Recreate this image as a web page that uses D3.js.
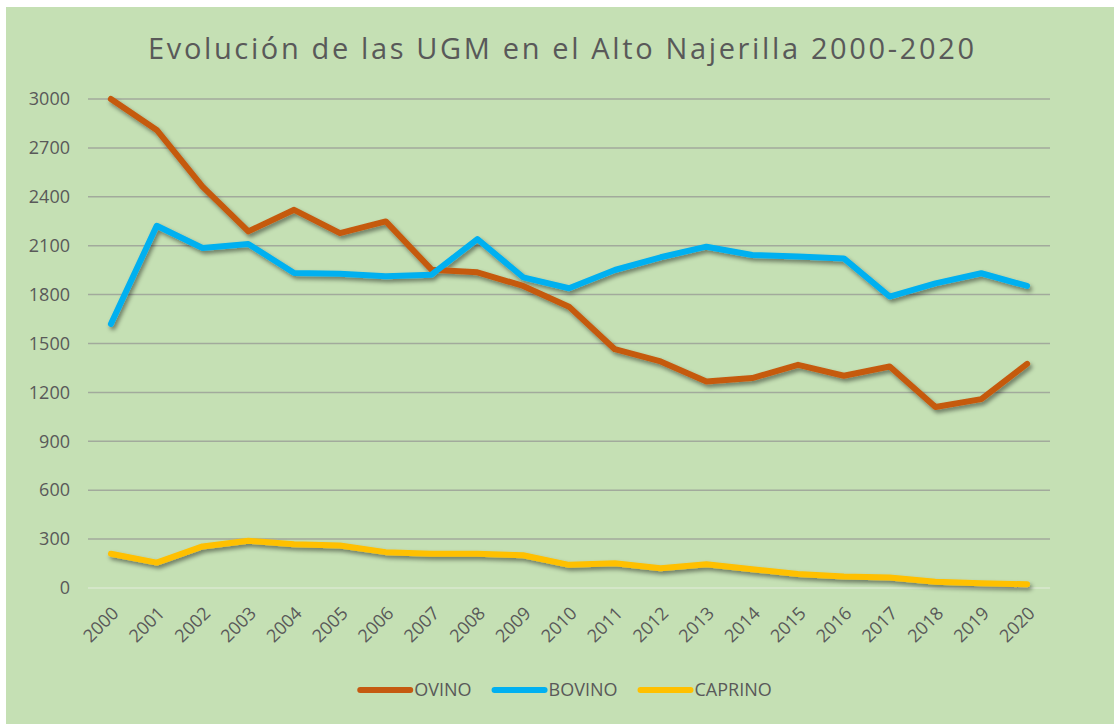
<!DOCTYPE html>
<html>
<head>
<meta charset="utf-8">
<script src="https://cdn.jsdelivr.net/npm/d3@7"></script>
<style>
  html, body { margin: 0; padding: 0; background: #ffffff; }
  svg { display: block; }
  text { font-family: "Open Sans", "DejaVu Sans", sans-serif; fill: #595959; }
</style>
</head>
<body>
<svg id="chart" width="1114" height="724"></svg>
<script>
// Years on the category axis
const years = ["2000","2001","2002","2003","2004","2005","2006","2007","2008","2009","2010",
               "2011","2012","2013","2014","2015","2016","2017","2018","2019","2020"];

// UGM per species
const ovino   = [3000, 2810, 2463, 2188, 2320, 2177, 2249, 1953, 1937, 1853, 1726,
                 1465, 1390, 1267, 1288, 1369, 1302, 1359, 1110, 1159, 1375];
const bovino  = [1620, 2222, 2086, 2110, 1933, 1928, 1912, 1922, 2141, 1906, 1839,
                 1951, 2029, 2094, 2043, 2033, 2022, 1788, 1869, 1931, 1853];
const caprino = [210, 156, 255, 290, 269, 261, 220, 210, 210, 201, 142,
                 152, 121, 146, 115, 86, 70, 64, 39, 29, 23];

// Value axis ticks
const yTicks = [0, 300, 600, 900, 1200, 1500, 1800, 2100, 2400, 2700, 3000];

const seriesNames  = ["OVINO", "BOVINO", "CAPRINO"];
const seriesColors = ["#C55A11", "#00B0F0", "#FFC000"];
const seriesData   = [ovino, bovino, caprino];

const svg = d3.select("#chart");

// Chart area background
svg.append("rect")
  .attr("x", 6).attr("y", 7)
  .attr("width", 1108).attr("height", 717)
  .attr("fill", "#C5E0B4");

// Soft drop shadow under the series lines
const defs = svg.append("defs");
const f = defs.append("filter").attr("id", "lineShadow")
  .attr("x", "-5%").attr("y", "-20%").attr("width", "110%").attr("height", "140%");
f.append("feDropShadow")
  .attr("dx", 2).attr("dy", 3).attr("stdDeviation", 2)
  .attr("flood-color", "#000").attr("flood-opacity", 0.45);

const plotLeft = 88, plotRight = 1050, plotTop = 99, plotBottom = 588;

const x = d3.scalePoint().domain(years).range([plotLeft, plotRight]).padding(0.5);
const y = d3.scaleLinear().domain([0, 3000]).range([plotBottom, plotTop]);

// Horizontal gridlines
svg.append("g")
  .selectAll("line")
  .data(yTicks.filter(d => d !== 0))
  .join("line")
  .attr("x1", plotLeft).attr("x2", plotRight)
  .attr("y1", d => y(d)).attr("y2", d => y(d))
  .attr("stroke", "#A2AA9C").attr("stroke-width", 1.5);

// Category axis line
svg.append("line")
  .attr("x1", plotLeft).attr("x2", plotRight)
  .attr("y1", y(0)).attr("y2", y(0))
  .attr("stroke", "#D9E8CF").attr("stroke-width", 1.5);

// Value axis labels
const yAxis = d3.axisLeft(y).tickValues(yTicks).tickSize(0).tickPadding(0).tickFormat(d3.format("d"));
const yg = svg.append("g").attr("transform", `translate(${plotLeft - 18},0)`).call(yAxis);
yg.select(".domain").remove();
yg.selectAll("text")
  .attr("fill", "#595959")
  .style("font-size", "18px")
  .style("font-family", "\"Open Sans\", sans-serif");

// Category axis labels, rotated
const xAxis = d3.axisBottom(x).tickSize(0).tickPadding(0);
const xg = svg.append("g").attr("transform", `translate(0,${plotBottom})`).call(xAxis);
xg.select(".domain").remove();
xg.selectAll("text")
  .attr("fill", "#595959")
  .style("font-size", "18px")
  .style("font-family", "\"Open Sans\", sans-serif")
  .attr("text-anchor", "end")
  .attr("dy", "0.35em")
  .attr("y", 0)
  .attr("transform", "translate(4,22) rotate(-45)");

// Series lines
const line = d3.line()
  .x((d, i) => x(years[i]))
  .y(d => y(d));

svg.append("g")
  .attr("filter", "url(#lineShadow)")
  .selectAll("path")
  .data(seriesData)
  .join("path")
  .attr("d", d => line(d))
  .attr("fill", "none")
  .attr("stroke", (d, i) => seriesColors[i])
  .attr("stroke-width", 6)
  .attr("stroke-linejoin", "round")
  .attr("stroke-linecap", "round");

// Title
svg.append("text")
  .attr("x", 561).attr("y", 59)
  .attr("text-anchor", "middle")
  .attr("textLength", 826)
  .attr("lengthAdjust", "spacing")
  .style("font-size", "29px")
  .text("Evolución de las UGM en el Alto Najerilla 2000-2020");

// Legend
const legend = svg.append("g");
const sampleW = 50, sampleGap = 4, itemGap = 23;
const items = legend.selectAll("g").data(seriesNames).join("g");
items.append("line")
  .attr("x1", 0).attr("x2", sampleW)
  .attr("y1", 0).attr("y2", 0)
  .attr("stroke", (d, i) => seriesColors[i])
  .attr("stroke-width", 6)
  .attr("stroke-linecap", "round");
items.append("text")
  .attr("x", sampleW + sampleGap)
  .attr("dy", "0.35em")
  .style("font-size", "18px")
  .text(d => d);

let offset = 0;
const widths = [];
items.each(function () {
  const w = sampleW + sampleGap + d3.select(this).select("text").node().getComputedTextLength();
  widths.push(w);
});
const total = d3.sum(widths) + itemGap * (widths.length - 1);
const startX = 566 - total / 2;
items.attr("transform", (d, i) => {
  const tx = startX + offset;
  offset += widths[i] + itemGap;
  return `translate(${tx},690)`;
});
</script>
</body>
</html>
